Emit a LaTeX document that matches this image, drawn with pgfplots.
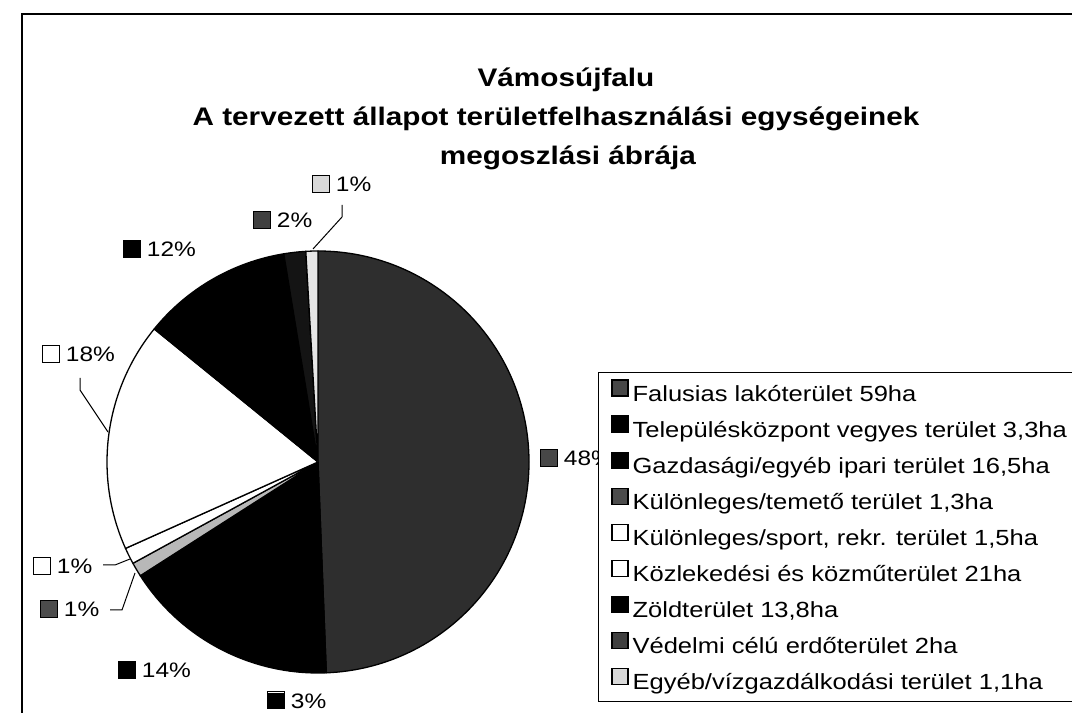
\documentclass[border=0pt]{standalone}
\usepackage{graphicx}
\usepackage{pgfplots}
\usepackage{pgfplotstable}
\pgfplotsset{compat=1.18}
\usepackage{fontspec}
\setmainfont{Liberation Sans}
\newcommand\hs[1]{\scalebox{1.17}[1]{#1}}
\newcommand\hl[1]{\scalebox{1.165}[1]{#1}}
\setlength\fboxsep{0pt}
\setlength\fboxrule{1.1bp}
\newcommand\mk[1]{\fcolorbox{black}{#1}{\rule{0pt}{15.5bp}\rule{15.5bp}{0pt}}}
\tikzset{lbl/.style={font=\fontsize{21}{25}\selectfont, inner sep=0pt, anchor=base west}}

\pgfplotstableread[col sep=semicolon]{
name;value;pct;fillc;markc
Falusias lakóterület 59ha;59;48;black!82;black!72
Településközpont vegyes terület 3,3ha;3.3;3;black;black
Gazdasági/egyéb ipari terület 16,5ha;16.5;14;black;black
Különleges/temető terület 1,3ha;1.3;1;black!28;black!70
Különleges/sport, rekr. terület 1,5ha;1.5;1;white;white
Közlekedési és közműterület 21ha;21;18;white;white
Zöldterület 13,8ha;13.8;12;black;black
Védelmi célú erdőterület 2ha;2;2;black!92;black!75
Egyéb/vízgazdálkodási terület 1,1ha;1.1;1;black!10;black!15
}\piedata

\begin{document}
\begin{tikzpicture}
% ---- pie angles from the data (clockwise from 12 o'clock) ----
\def\total{0}%
\pgfplotsforeachungrouped \i in {0,...,8}{%
  \pgfplotstablegetelem{\i}{value}\of\piedata
  \pgfmathsetmacro\total{\total+\pgfplotsretval}%
}%
\def\cum{0}%
\pgfplotsforeachungrouped \i in {0,...,8}{%
  \pgfplotstablegetelem{\i}{value}\of\piedata
  \pgfmathsetmacro\a{90-360*(\cum/\total)}%
  \pgfmathsetmacro\cum{\cum+\pgfplotsretval}%
  \pgfmathsetmacro\b{90-360*(\cum/\total)}%
  \pgfmathsetmacro\sx{318+211*cos(\a)}%
  \pgfmathsetmacro\sy{251+211*sin(\a)}%
  \expandafter\xdef\csname sa\i\endcsname{\a}%
  \expandafter\xdef\csname ea\i\endcsname{\b}%
  \expandafter\xdef\csname sx\i\endcsname{\sx}%
  \expandafter\xdef\csname sy\i\endcsname{\sy}%
  \pgfplotstablegetelem{\i}{fillc}\of\piedata
  \colorlet{pc\i}{\pgfplotsretval}%
  \pgfplotstablegetelem{\i}{markc}\of\piedata
  \colorlet{mc\i}{\pgfplotsretval}%
  \pgfplotstablegetelem{\i}{name}\of\piedata
  \expandafter\xdef\csname nm\i\endcsname{\pgfplotsretval}%
  \pgfplotstablegetelem{\i}{pct}\of\piedata
  \expandafter\xdef\csname pc\i\endcsname{\pgfplotsretval}%
}%
\begin{axis}[
  at={(0,0)}, anchor=south west,
  scale only axis, width=1072bp, height=713bp,
  xmin=0, xmax=1072, ymin=0, ymax=713,
  hide axis, clip=false,
  legend image code/.code={\draw[#1,draw=black,line width=1.1bp] (0bp,-1bp) rectangle (16bp,15bp);},
  legend cell align=left,
  legend style={at={(axis cs:598,341)}, anchor=north west, draw=black, line width=0.9bp, fill=white,
    font=\fontsize{22}{26}\selectfont, inner xsep=13bp, inner ysep=7bp,
    row sep=9bp, column sep=4bp,
    nodes={inner sep=0pt, text height=18bp, text depth=5bp}},
]
% frame of the scanned chart area
\draw[line width=2bp] (axis cs:22,0) -- (axis cs:22,699) -- (axis cs:1072,699);
% wedges
\pgfplotsinvokeforeach{0,...,8}{%
  \edef\temp{\noexpand\filldraw[fill=pc#1,draw=black,line width=1.3bp,line join=round]
    (axis cs:318,251) -- (axis cs:\csname sx#1\endcsname,\csname sy#1\endcsname)
    arc[start angle=\csname sa#1\endcsname,end angle=\csname ea#1\endcsname,radius=211bp] -- cycle;}%
  \temp
}
% leader lines
\draw[line width=1bp] (axis cs:313,464) -- (axis cs:342,496) -- (axis cs:342,508);
\draw[line width=1bp] (axis cs:108,281) -- (axis cs:80,323) -- (axis cs:80,335);
\draw[line width=1bp] (axis cs:130,154) -- (axis cs:115,148) -- (axis cs:103,148);
\draw[line width=1bp] (axis cs:135,140) -- (axis cs:122,103) -- (axis cs:110,103);
% data labels
\node[lbl] at (axis cs:540,247) {\mk{mc0}\hspace{6bp}\hs{\csname pc0\endcsname\%}};
\node[lbl] at (axis cs:267,5)   {\mk{mc1}\hspace{6bp}\hs{\csname pc1\endcsname\%}};
\node[lbl] at (axis cs:118,35)  {\mk{mc2}\hspace{6bp}\hs{\csname pc2\endcsname\%}};
\node[lbl] at (axis cs:40,96)   {\mk{mc3}\hspace{6bp}\hs{\csname pc3\endcsname\%}};
\node[lbl] at (axis cs:33,139)  {\mk{mc4}\hspace{6bp}\hs{\csname pc4\endcsname\%}};
\node[lbl] at (axis cs:42,351)  {\mk{mc5}\hspace{6bp}\hs{\csname pc5\endcsname\%}};
\node[lbl] at (axis cs:123,456) {\mk{mc6}\hspace{6bp}\hs{\csname pc6\endcsname\%}};
\node[lbl] at (axis cs:253,485) {\mk{mc7}\hspace{6bp}\hs{\csname pc7\endcsname\%}};
\node[lbl] at (axis cs:312,521) {\mk{mc8}\hspace{6bp}\hs{\csname pc8\endcsname\%}};
% title
\node[anchor=base, font=\fontsize{25.5}{30}\selectfont\bfseries] at (axis cs:566,626) {\hs{Vámosújfalu}};
\node[anchor=base, font=\fontsize{25.5}{30}\selectfont\bfseries] at (axis cs:556,587) {\hs{A tervezett állapot területfelhasználási egységeinek}};
\node[anchor=base, font=\fontsize{25.5}{30}\selectfont\bfseries] at (axis cs:568,548) {\hs{megoszlási ábrája}};
% legend
\pgfplotsinvokeforeach{0,...,8}{%
  \addlegendimage{fill=mc#1}
  \addlegendentry{\hl{\csname nm#1\endcsname}}
}
\end{axis}
\pgfresetboundingbox
\useasboundingbox (0,0) rectangle (1072bp,713bp);
\end{tikzpicture}
\end{document}
